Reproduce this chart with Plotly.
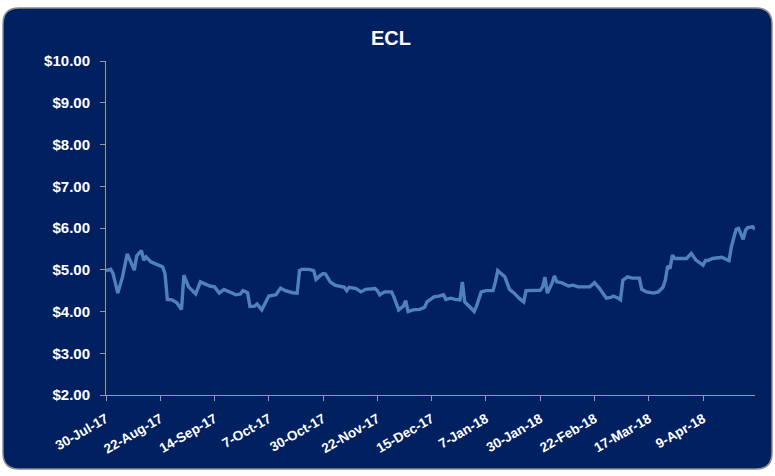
import plotly.graph_objects as go

dates = [
    "2017-07-30", "2017-08-01", "2017-08-02", "2017-08-04", "2017-08-06", "2017-08-08",
    "2017-08-11", "2017-08-12", "2017-08-14", "2017-08-15", "2017-08-16", "2017-08-18",
    "2017-08-20", "2017-08-23", "2017-08-24", "2017-08-25", "2017-08-27", "2017-08-29",
    "2017-08-31", "2017-09-01", "2017-09-03", "2017-09-06", "2017-09-08", "2017-09-09",
    "2017-09-12", "2017-09-14", "2017-09-16", "2017-09-18", "2017-09-20", "2017-09-23",
    "2017-09-25", "2017-09-26", "2017-09-28", "2017-09-29", "2017-10-01", "2017-10-02",
    "2017-10-04", "2017-10-06", "2017-10-07", "2017-10-10", "2017-10-12", "2017-10-14",
    "2017-10-17", "2017-10-19", "2017-10-20", "2017-10-21", "2017-10-24", "2017-10-26",
    "2017-10-27", "2017-10-29", "2017-10-30", "2017-10-31", "2017-11-02", "2017-11-04",
    "2017-11-06", "2017-11-08", "2017-11-09", "2017-11-10", "2017-11-13", "2017-11-15",
    "2017-11-17", "2017-11-21", "2017-11-22", "2017-11-23", "2017-11-25", "2017-11-28",
    "2017-11-29", "2017-12-01", "2017-12-03", "2017-12-04", "2017-12-05", "2017-12-07",
    "2017-12-10", "2017-12-12", "2017-12-13", "2017-12-15", "2017-12-16", "2017-12-18",
    "2017-12-20", "2017-12-21", "2017-12-23", "2017-12-25", "2017-12-27", "2017-12-28",
    "2017-12-29", "2017-12-31", "2018-01-02", "2018-01-03", "2018-01-05", "2018-01-07",
    "2018-01-10", "2018-01-11", "2018-01-12", "2018-01-13", "2018-01-15", "2018-01-17",
    "2018-01-19", "2018-01-21", "2018-01-23", "2018-01-24", "2018-01-27", "2018-01-30",
    "2018-01-31", "2018-02-01", "2018-02-02", "2018-02-04", "2018-02-05", "2018-02-06",
    "2018-02-08", "2018-02-11", "2018-02-13", "2018-02-15", "2018-02-20", "2018-02-22",
    "2018-02-24", "2018-02-27", "2018-03-01", "2018-03-02", "2018-03-04", "2018-03-05",
    "2018-03-06", "2018-03-08", "2018-03-10", "2018-03-13", "2018-03-14", "2018-03-16",
    "2018-03-19", "2018-03-21", "2018-03-23", "2018-03-24", "2018-03-25", "2018-03-26",
    "2018-03-27", "2018-03-28", "2018-04-02", "2018-04-04", "2018-04-06", "2018-04-09",
    "2018-04-10", "2018-04-11", "2018-04-13", "2018-04-17", "2018-04-18", "2018-04-20",
    "2018-04-21", "2018-04-23", "2018-04-24", "2018-04-26", "2018-04-27", "2018-04-28",
    "2018-04-30", "2018-05-01",
]

prices = [
    4.98, 5.01, 4.91, 4.44, 4.83, 5.38,
    4.99, 5.33, 5.46, 5.23, 5.31, 5.19,
    5.14, 5.07, 4.91, 4.29, 4.28, 4.21,
    4.05, 4.87, 4.59, 4.42, 4.71, 4.68,
    4.61, 4.59, 4.44, 4.53, 4.47, 4.40,
    4.42, 4.50, 4.45, 4.12, 4.13, 4.18,
    4.04, 4.29, 4.37, 4.40, 4.56, 4.50,
    4.45, 4.44, 4.98, 5.01, 5.01, 4.98,
    4.77, 4.87, 4.91, 4.90, 4.71, 4.63,
    4.61, 4.58, 4.50, 4.58, 4.55, 4.47,
    4.53, 4.55, 4.50, 4.40, 4.47, 4.47,
    4.35, 4.04, 4.13, 4.26, 4.00, 4.04,
    4.05, 4.10, 4.23, 4.31, 4.35, 4.37,
    4.40, 4.29, 4.32, 4.29, 4.28, 4.71,
    4.23, 4.12, 4.00, 4.13, 4.47, 4.50,
    4.50, 4.71, 4.98, 4.93, 4.83, 4.53,
    4.44, 4.32, 4.23, 4.50, 4.50, 4.51,
    4.59, 4.82, 4.44, 4.68, 4.85, 4.71,
    4.69, 4.61, 4.63, 4.59, 4.59, 4.69,
    4.56, 4.32, 4.34, 4.37, 4.32, 4.28,
    4.75, 4.83, 4.80, 4.80, 4.53, 4.47,
    4.44, 4.47, 4.58, 4.75, 5.09, 5.03,
    5.35, 5.27, 5.27, 5.39, 5.23, 5.11,
    5.22, 5.22, 5.27, 5.30, 5.27, 5.22,
    5.55, 5.97, 5.99, 5.73, 5.95, 6.01,
    6.03, 5.97,
]

title_text = "ECL"
y_range = [2, 10]
x_range = ["2017-07-30", "2018-05-01"]
x_tick0 = "2017-07-30"
x_tick_days = 23

W, H = 775, 476
ML, MR, MT, MB = 106, 20, 61, 81
PW, PH = W - ML - MR, H - MT - MB

NAVY = "#002060"
LINE = "#4F81BD"
AXIS = "#9a9a9a"
FONT = "Liberation Sans, Arial, sans-serif"


def px(x):
    return (x - ML) / PW


def py(y):
    return (H - MB - y) / PH


# rounded panel path in paper coordinates
x0, x1, y0, y1, r = 3, 772, 8, 469, 16
path = (
    f"M {px(x0 + r)},{py(y0)} L {px(x1 - r)},{py(y0)} "
    f"Q {px(x1)},{py(y0)} {px(x1)},{py(y0 + r)} "
    f"L {px(x1)},{py(y1 - r)} Q {px(x1)},{py(y1)} {px(x1 - r)},{py(y1)} "
    f"L {px(x0 + r)},{py(y1)} Q {px(x0)},{py(y1)} {px(x0)},{py(y1 - r)} "
    f"L {px(x0)},{py(y0 + r)} Q {px(x0)},{py(y0)} {px(x0 + r)},{py(y0)} Z"
)

fig = go.Figure()
fig.add_trace(go.Scatter(
    x=dates, y=prices, mode="lines",
    line=dict(color=LINE, width=3.4),
    showlegend=False, hoverinfo="x+y",
))

fig.update_layout(
    width=W, height=H,
    margin=dict(l=ML, r=MR, t=MT, b=MB),
    paper_bgcolor="white",
    plot_bgcolor="rgba(0,0,0,0)",
    font=dict(family=FONT, color="white", size=14, weight="bold"),
    shapes=[dict(
        type="path", path=path, xref="paper", yref="paper",
        fillcolor=NAVY, line=dict(color="#8c8c8c", width=1.5), layer="below",
    )],
    annotations=[dict(
        text=f"<b>{title_text}</b>", x=px(391), y=py(38), xref="paper", yref="paper",
        showarrow=False, xanchor="center", yanchor="middle",
        font=dict(family=FONT, size=20, color="white"),
    )],
    xaxis=dict(
        type="date", range=x_range, tick0=x_tick0, dtick=x_tick_days * 86400000,
        tickformat="%-d-%b-%y", tickangle=-30,
        showgrid=False, zeroline=False, showline=True, linecolor=AXIS, linewidth=1,
        ticks="outside", ticklen=5, tickcolor=AXIS, ticklabelstandoff=5,
        tickfont=dict(family=FONT, size=13.5, color="white", weight="bold"),
    ),
    yaxis=dict(
        range=y_range, dtick=1, tickprefix="$", tickformat=".2f",
        showgrid=False, zeroline=False, showline=True, linecolor=AXIS, linewidth=1,
        ticks="outside", ticklen=5, tickcolor=AXIS, ticklabelstandoff=7,
        tickfont=dict(family=FONT, size=15, color="white", weight="bold"),
    ),
)

fig.write_html("out.html")
